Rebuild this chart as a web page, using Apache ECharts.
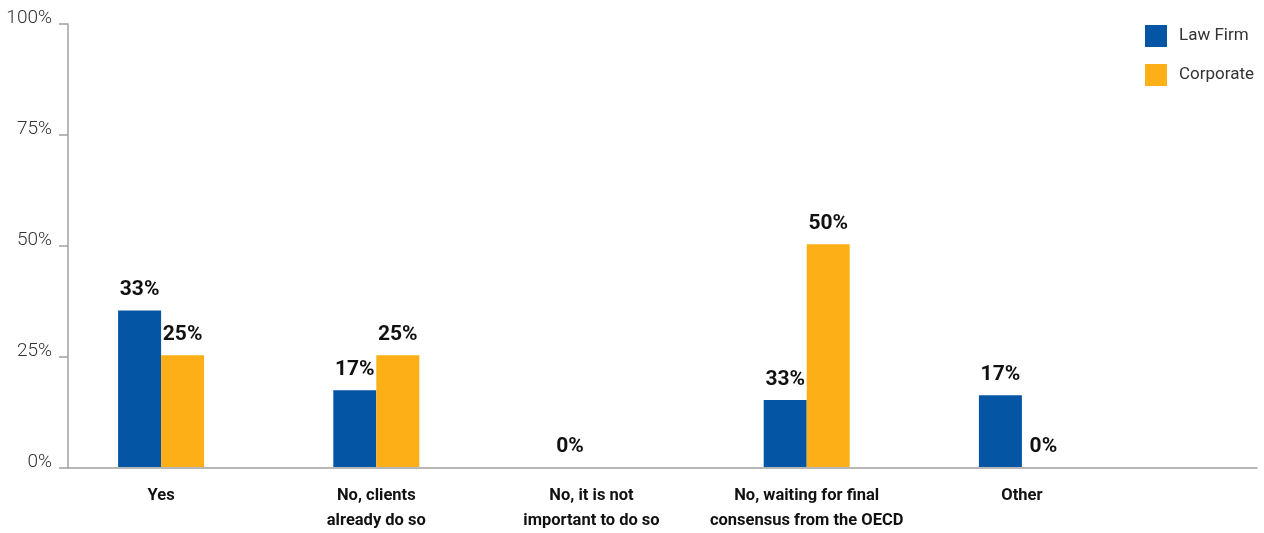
<!DOCTYPE html>
<html>
<head>
<meta charset="utf-8">
<script src="https://cdn.jsdelivr.net/npm/echarts@6/dist/echarts.min.js"></script>
<style>
  html, body { margin: 0; padding: 0; background: #fff; }
  #chart { width: 1264px; height: 533px; }
</style>
</head>
<body>
<div id="chart"></div>
<script>
// ---- data ----
const categories = [
  'Yes',
  'No, clients\nalready do so',
  'No, it is not\nimportant to do so',
  'No, waiting for final\nconsensus from the OECD',
  'Other'
];
const seriesNames = ['Law Firm', 'Corporate'];
// bar heights as drawn in the picture (%)
const lawFirmValues = [35.3, 17.3, 0, 15.1, 16.2];
const corporateValues = [25.2, 25.2, 0, 50.3, 0];
// printed value labels
const lawFirmLabels = ['33%', '17%', '0%', '33%', '17%'];
const corporateLabels = ['25%', '25%', '', '50%', '0%'];
const yTicks = [0, 25, 50, 75, 100];

const FONT = "Roboto, 'DejaVu Sans Condensed', sans-serif";
const BLUE = '#0455A4';
const ORANGE = '#FCAF17';

const chart = echarts.init(document.getElementById('chart'), null, { renderer: 'canvas' });

function barLabel(labels) {
  return {
    show: true,
    position: 'top',
    distance: 10,
    fontFamily: FONT,
    fontWeight: 'bold',
    fontSize: 21,
    color: '#111',
    formatter: p => labels[p.dataIndex]
  };
}

chart.setOption({
  animation: false,
  backgroundColor: '#fff',
  textStyle: { fontFamily: FONT },
  legend: {
    data: seriesNames,
    orient: 'vertical',
    left: 1140,
    top: 20,
    itemWidth: 22,
    itemHeight: 22,
    itemGap: 17,
    icon: 'rect',
    textStyle: { fontFamily: FONT, fontSize: 17, color: '#333', padding: [0, 0, 0, 7] }
  },
  grid: [
    { left: 68, right: 7, top: 24, bottom: 65 },
    { left: 53.5, width: 1076, top: 24, bottom: 65 }
  ],
  xAxis: [
    {
      type: 'category', gridIndex: 0, data: [''],
      axisLine: { show: true, lineStyle: { color: '#A0A0A0', width: 1.5 } },
      axisTick: { show: false }, axisLabel: { show: false }, splitLine: { show: false }
    },
    {
      type: 'category', gridIndex: 1, data: categories,
      axisLine: { show: false }, axisTick: { show: false }, splitLine: { show: false },
      axisLabel: {
        interval: 0, margin: 16, fontFamily: FONT, fontWeight: 'bold',
        fontSize: 16.5, lineHeight: 25, color: '#111'
      }
    }
  ],
  yAxis: [
    {
      type: 'value', gridIndex: 0, min: 0, max: 100, interval: 25,
      axisLine: { show: true, lineStyle: { color: '#A0A0A0', width: 1.5 } },
      axisTick: { show: true, length: 9, lineStyle: { color: '#A0A0A0', width: 1.5 } },
      splitLine: { show: false },
      axisLabel: {
        margin: 16, fontFamily: FONT, fontWeight: 300, fontSize: 19, color: '#333',
        verticalAlign: 'bottom', lineHeight: 12,
        formatter: v => (yTicks.indexOf(v) >= 0 ? v + '%' : '')
      }
    },
    {
      type: 'value', gridIndex: 1, min: 0, max: 100, interval: 25, show: false
    }
  ],
  series: [
    {
      name: seriesNames[0], type: 'bar', xAxisIndex: 1, yAxisIndex: 1,
      data: lawFirmValues, barWidth: 43, barGap: '0%',
      itemStyle: { color: BLUE }, label: barLabel(lawFirmLabels)
    },
    {
      name: seriesNames[1], type: 'bar', xAxisIndex: 1, yAxisIndex: 1,
      data: corporateValues, barWidth: 43, barGap: '0%',
      itemStyle: { color: ORANGE }, label: barLabel(corporateLabels)
    }
  ]
});
</script>
</body>
</html>
